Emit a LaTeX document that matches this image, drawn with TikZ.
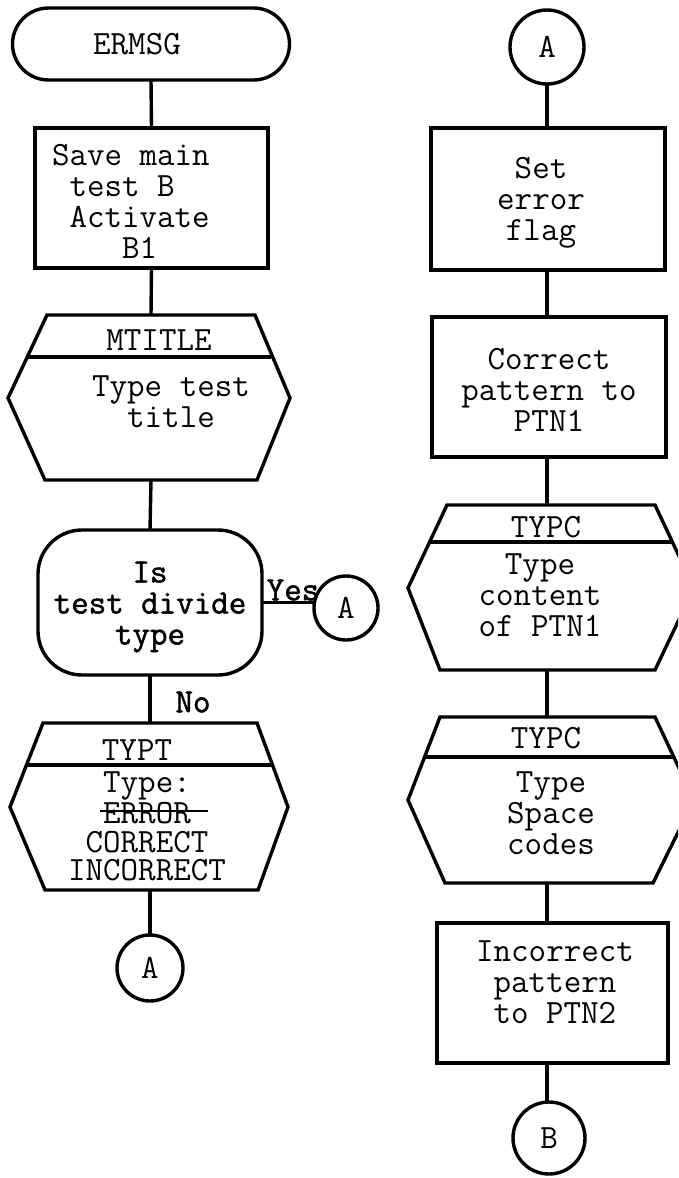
\documentclass[tikz,border=0pt]{standalone}
\usepackage{fontspec}
\newfontfamily\decfont{Latin Modern Mono}[FakeBold=1.5]
\begin{document}
\begin{tikzpicture}[x=1pt,y=-1pt,
  every node/.style={inner sep=0pt, outer sep=0pt},
  ln/.style={line width=3.4pt},
  proc/.style={draw, line width=3.4pt, minimum width=234pt, minimum height=140pt},
  conn/.style={draw, circle, line width=3.4pt, font=\fontsize{34}{31}\selectfont\ttfamily},
  txt/.style={font=\fontsize{34}{31}\selectfont\ttfamily, align=center},
  btxt/.style={font=\fontsize{34}{31}\selectfont\decfont, align=center},
  hex/.style={draw, line width=3.4pt, line join=miter},
]
\clip (0,0) rectangle (678,1178);
\fill[white] (0,0) rectangle (678,1178);

% ---------------- left column ----------------
\node[draw, ln, rounded corners=36pt, minimum width=277pt, minimum height=72pt] (ermsg) at (151,44) {};
\node[txt] (ermsgT) at (137,44) {ERMSG};

\node[proc, minimum width=233pt] (save) at (151.5,198) {};
\node[txt, align=left, anchor=west] (saveT) at (52,201) {Save main\\\phantom{x}test B\\\phantom{x}Activate\\\phantom{xxxx}B1};

\draw[hex] (47,315) -- (255,315) -- (290,398) -- (257,480) -- (45,480) -- (8,398) -- cycle;
\draw[ln] (28,357) -- (271,357);
\coordinate (mtTop) at (151,315);
\coordinate (mtBot) at (151,480);
\node[txt] (mtT) at (159,340) {MTITLE};
\node[txt] (mtB) at (171,402) {Type test\\title};

\node[draw, ln, rounded corners=44pt, minimum width=224pt, minimum height=145pt] (dec) at (150,602.5) {};
\node[btxt] (decT) at (150,607) {Is\\test divide\\type};
\node[conn, minimum size=64pt] (yesA) at (346,608) {A};
\node[btxt] (yesL) at (293,590) {Yes};
\node[btxt] (noL) at (193,702) {No};

\draw[hex] (43,723) -- (257,723) -- (288,807) -- (258,890) -- (45,890) -- (10,807) -- cycle;
\draw[ln] (28,765) -- (271,765);
\coordinate (tyTop) at (150,723);
\coordinate (tyBot) at (150,890);
\node[txt] (tyT) at (137,750) {TYPT};
\node[txt] (ty1) at (147,786) {Type:};
\node[txt] (ty2) at (147,813) {ERROR};
\draw[line width=1.8pt] (100,811) -- (208,811);
\node[txt] (ty3) at (147,842) {CORRECT};
\node[txt] (ty4) at (147,870) {INCORRECT};

\node[conn, minimum size=66pt] (botA) at (150,968) {A};

\draw[ln] (ermsg.south) -- (save.north);
\draw[ln] (save.south) -- (mtTop);
\draw[ln] (mtBot) -- (dec.north);
\draw[ln] (dec.east) -- (yesA.west |- dec.east);
\draw[ln] (dec.south) -- (tyTop);
\draw[ln] (tyBot) -- (botA.north);

% ---------------- right column ----------------
\node[conn, minimum size=74pt] (topA) at (547,47) {A};

\node[proc] (flag) at (548,199) [minimum height=142pt] {};
\node[txt] (flagT) at (541,203) {Set\\error\\flag};

\node[proc] (ptn1) at (549,387) {};
\node[txt] (ptn1T) at (549,390) {Correct\\pattern to\\PTN1};

\draw[hex] (447,505) -- (655,505) -- (694,588) -- (655,670) -- (440,670) -- (408,588) -- cycle;
\draw[ln] (430,542) -- (672,542);
\coordinate (c1Top) at (547,505);
\coordinate (c1Bot) at (547,670);
\node[txt] (c1T) at (546,527) {TYPC};
\node[txt] (c1B) at (540,595) {Type\\content\\of PTN1};

\draw[hex] (440,717) -- (655,717) -- (694,800) -- (653,883) -- (445,883) -- (408,800) -- cycle;
\draw[ln] (425,757) -- (674,757);
\coordinate (c2Top) at (547,717);
\coordinate (c2Bot) at (547,883);
\node[txt] (c2T) at (546,738) {TYPC};
\node[txt] (c2B) at (551,813) {Type\\Space\\codes};

\node[proc, minimum width=231pt] (ptn2) at (552.5,993) {};
\node[txt] (ptn2T) at (555,982) {Incorrect\\pattern\\to PTN2};

\node[conn, minimum size=72pt] (endB) at (549,1138) {B};

\draw[ln] (topA.south) -- (topA.south |- flag.north);
\draw[ln] (topA.south |- flag.south) -- (topA.south |- ptn1.north);
\draw[ln] (topA.south |- ptn1.south) -- (c1Top);
\draw[ln] (c1Bot) -- (c2Top);
\draw[ln] (c2Bot) -- (c2Bot |- ptn2.north);
\draw[ln] (c2Bot |- ptn2.south) -- (c2Bot |- endB.north);
\end{tikzpicture}
\end{document}
